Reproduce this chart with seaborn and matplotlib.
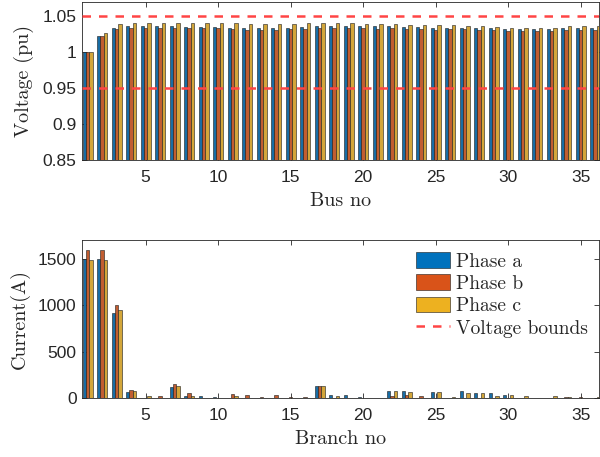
import numpy as np
import pandas as pd
import matplotlib
matplotlib.use('Agg')
import matplotlib.pyplot as plt
from matplotlib.patches import Patch
from matplotlib.lines import Line2D
import seaborn as sns

# per-phase bus voltages (pu)
buses = list(range(1, 37))
va = [1.000, 1.022, 1.034, 1.036, 1.036, 1.036, 1.036, 1.035, 1.035, 1.035,
      1.034, 1.033, 1.033, 1.033, 1.034, 1.035, 1.036, 1.036, 1.036, 1.036,
      1.036, 1.036, 1.035, 1.035, 1.034, 1.034, 1.034, 1.033, 1.033, 1.032,
      1.032, 1.032, 1.032, 1.033, 1.033, 1.033]
vb = [1.000, 1.022, 1.032, 1.034, 1.034, 1.034, 1.034, 1.033, 1.033, 1.033,
      1.032, 1.031, 1.031, 1.031, 1.032, 1.032, 1.034, 1.033, 1.033, 1.033,
      1.032, 1.033, 1.032, 1.032, 1.031, 1.032, 1.032, 1.031, 1.031, 1.030,
      1.030, 1.030, 1.030, 1.031, 1.031, 1.031]
vc = [1.000, 1.027, 1.039, 1.041, 1.041, 1.041, 1.041, 1.040, 1.041, 1.040,
      1.040, 1.039, 1.039, 1.039, 1.039, 1.040, 1.041, 1.040, 1.040, 1.039,
      1.039, 1.039, 1.038, 1.038, 1.038, 1.038, 1.037, 1.036, 1.035, 1.034,
      1.034, 1.034, 1.034, 1.036, 1.036, 1.036]

# per-phase branch currents (A)
branches = list(range(1, 37))
ia = [1500, 1500, 915, 70, 2, 5, 120, 20, 20, 15,
      2, 3, 2, 2, 2, 0, 125, 32, 28, 12,
      5, 75, 75, 2, 70, 2, 75, 55, 55, 30,
      2, 2, 2, 3, 2, 2]
ib = [1595, 1595, 1000, 90, 3, 25, 155, 50, 5, 0,
      45, 38, 10, 32, 8, 8, 135, 5, 5, 0,
      5, 25, 28, 18, 5, 3, 5, 5, 3, 3,
      2, 5, 3, 10, 8, 3]
ic = [1493, 1490, 950, 78, 20, 3, 135, 20, 2, 0,
      20, 5, 2, 5, 2, 0, 133, 20, 5, 0,
      5, 78, 65, 2, 60, 12, 50, 50, 25, 28,
      25, 3, 20, 15, 3, 15]

phases = ['Phase a', 'Phase b', 'Phase c']
colors = ['#0072BD', '#D95319', '#EDB120']
v_bounds = [0.95, 1.05]

df_v = pd.DataFrame({'bus': buses * 3, 'v': va + vb + vc,
                     'phase': np.repeat(phases, len(buses))})
df_i = pd.DataFrame({'branch': branches * 3, 'i': ia + ib + ic,
                     'phase': np.repeat(phases, len(branches))})

sns.set_style('ticks')
plt.rcParams['font.family'] = ['Liberation Sans', 'DejaVu Sans']
serif = ['cmr10', 'DejaVu Serif']
axcol = '#262626'

fig = plt.figure(figsize=(6, 4.57), dpi=100)
ax1 = fig.add_axes([0.137, 0.650, 0.862, 0.346])
ax2 = fig.add_axes([0.137, 0.129, 0.862, 0.345])

sns.barplot(data=df_v, x='bus', y='v', hue='phase', palette=colors,
            native_scale=True, width=0.69, errorbar=None, legend=False,
            edgecolor='#1a1a1a', linewidth=0.4, ax=ax1)
for b in v_bounds:
    ax1.axhline(b, color='#ff4545', lw=1.8, dashes=(3.4, 3.2), zorder=5)
ax1.set_ylim(0.85, 1.07)
ax1.set_yticks([0.85, 0.9, 0.95, 1.0, 1.05])
ax1.set_yticklabels(['0.85', '0.9', '0.95', '1', '1.05'])
ax1.set_xlabel('Bus no', family=serif, fontsize=14.5, color=axcol, labelpad=5)
ax1.set_ylabel('Voltage (pu)', family=serif, fontsize=14.5, color=axcol, labelpad=6)

sns.barplot(data=df_i, x='branch', y='i', hue='phase', palette=colors,
            native_scale=True, width=0.69, errorbar=None, legend=False,
            edgecolor='#1a1a1a', linewidth=0.4, ax=ax2)
ax2.set_ylim(0, 1700)
ax2.set_yticks([0, 500, 1000, 1500])
ax2.set_xlabel('Branch no', family=serif, fontsize=14.5, color=axcol, labelpad=5)
ax2.set_ylabel('Current(A)', family=serif, fontsize=14.5, color=axcol, labelpad=6)

for ax in (ax1, ax2):
    ax.set_xlim(0.63, 36.3)
    ax.set_xticks([5, 10, 15, 20, 25, 30, 35])
    ax.set_xticklabels(['5', '10', '15', '20', '25', '30', '35'])
    ax.tick_params(direction='in', length=3.5, width=0.6, top=True, right=True,
                   labelsize=12.5, colors=axcol, pad=4)
    ax.tick_params(axis='x', pad=7.5)
    for s in ax.spines.values():
        s.set_visible(True)
        s.set_linewidth(0.6)
        s.set_color(axcol)

handles = [Patch(facecolor=c, edgecolor='#1a1a1a', linewidth=0.4) for c in colors]
handles.append(Line2D([], [], color='#ff4545', lw=1.8, dashes=(3.4, 3.2)))
ax2.legend(handles, phases + ['Voltage bounds'], loc='upper right',
           frameon=False, prop={'family': serif, 'size': 14},
           handlelength=1.75, handleheight=0.85, labelspacing=0.2,
           handletextpad=0.3, borderaxespad=0.2, bbox_to_anchor=(1.0, 1.0))

fig.savefig('out.png', dpi=100)
